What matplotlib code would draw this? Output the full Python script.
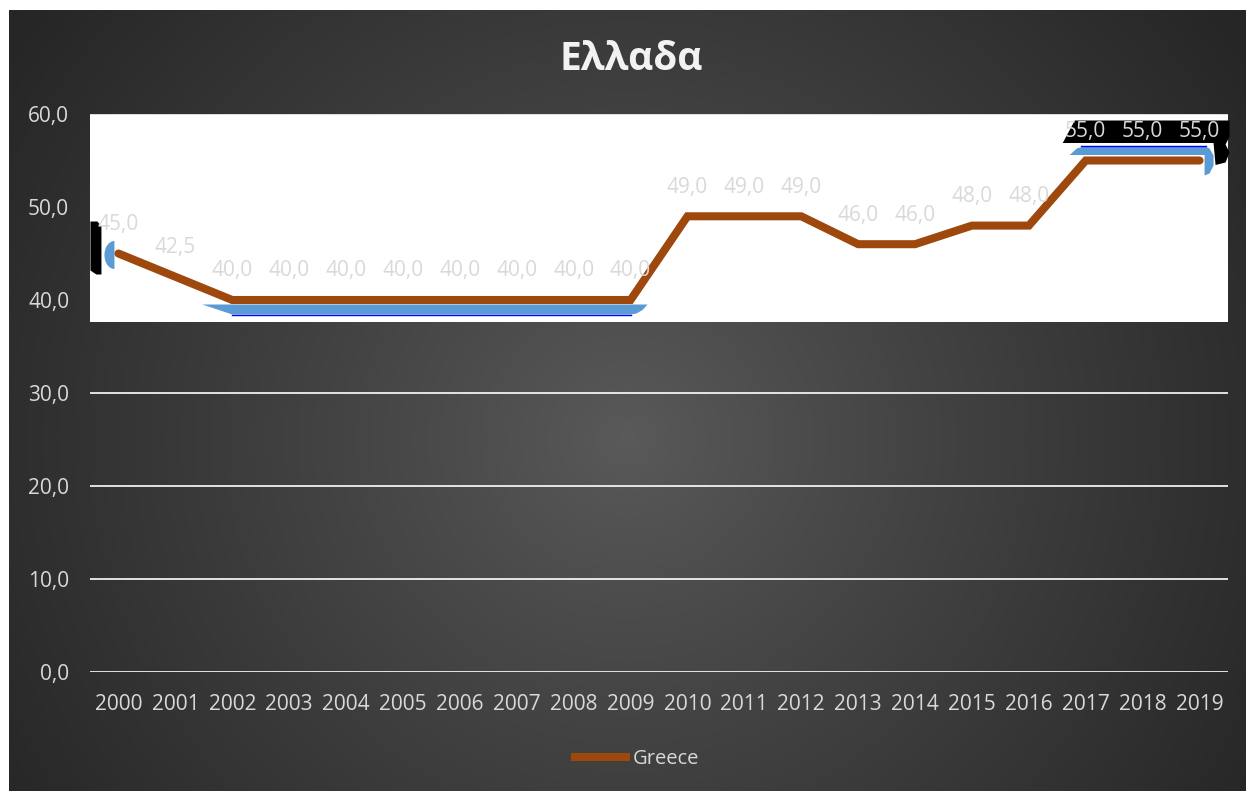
import numpy as np
import matplotlib; matplotlib.use("Agg")
import matplotlib.pyplot as plt
from matplotlib.patches import Polygon
from matplotlib.transforms import IdentityTransform

years = [str(y) for y in range(2000, 2020)]
greece = [45.0, 42.5, 40.0, 40.0, 40.0, 40.0, 40.0, 40.0, 40.0, 40.0,
          49.0, 49.0, 49.0, 46.0, 46.0, 48.0, 48.0, 55.0, 55.0, 55.0]
yticks = [0, 10, 20, 30, 40, 50, 60]

W, H = 1246, 791
LINE = "#9E480E"
TXT = "#D9D9D9"
BLUE = "#5B9BD5"
plt.rcParams["font.family"] = ["Open Sans", "DejaVu Sans"]

fig = plt.figure(figsize=(W / 100, H / 100), dpi=100)
fig.patch.set_facecolor("white")

# radial dark backdrop
bg = fig.add_axes([9 / W, 0, 1 - 9 / W, 1 - 10 / H], zorder=-10)
gy, gx = np.mgrid[0:1:400j, 0:1:600j]
r = np.sqrt((gx - 0.5) ** 2 + ((gy - 0.45) * 0.65) ** 2) / 0.6
r = np.clip(r, 0, 1)
c0, c1 = 0x5a / 255, 0x26 / 255
shade = c0 + (c1 - c0) * r ** 0.9
bg.imshow(np.dstack([shade] * 3), aspect="auto", extent=(0, 1, 0, 1), origin="lower")
bg.axis("off")

ax = fig.add_axes([90 / W, 1 - 672 / H, (1228 - 90) / W, (672 - 114) / H])
ax.patch.set_alpha(0)
x = np.arange(len(years))
ax.set_xlim(-0.5, len(years) - 0.5)
ax.set_ylim(0, 60)
ax.set_yticks(yticks)
ax.set_yticklabels([f"{v:.1f}".replace(".", ",") for v in yticks])
ax.set_xticks(x)
ax.set_xticklabels(years)
ax.tick_params(length=0, labelcolor=TXT, labelsize=15)
ax.tick_params(axis="y", pad=15)
ax.tick_params(axis="x", pad=16)
for s in ax.spines.values():
    s.set_visible(False)
ax.yaxis.grid(True, color="white", lw=1.2, zorder=0)
ax.set_axisbelow(True)

# white panel over the upper band
ax.axhspan(37.6, 59.9, color="white", zorder=1, lw=0)

line, = ax.plot(x, greece, color=LINE, lw=5.8, solid_capstyle="round",
                solid_joinstyle="miter", zorder=5, label="Greece")

# glow fragments, anchored to the data points in pixel space
P = ax.transData.transform(np.column_stack([x, greece]))

def poly(pts, z, color):
    p = Polygon(pts, closed=True, transform=IdentityTransform(), clip_on=False,
                lw=0, color=color, zorder=z)
    ax.add_artist(p)

def edge(xs, ys, z):
    ax.add_artist(plt.Line2D(xs, ys, color="#0000FF", lw=1, clip_on=False,
                             transform=IdentityTransform(), zorder=z))

# left edge: black tab and blue half-disc
x0, y0 = P[0]
poly([(x0 - 28, y0 + 32), (x0 - 21, y0 + 32), (x0 - 17, y0 + 27), (x0 - 17, y0 - 21),
      (x0 - 22, y0 - 21), (x0 - 28, y0 - 17)], 3, "black")
t = np.linspace(np.pi / 2, 3 * np.pi / 2, 30)
poly(np.column_stack([x0 - 4 + 10 * np.cos(t), y0 - 1.5 + 14 * np.sin(t)]), 3, BLUE)

# strip under the flat 40 stretch
xa, ya = P[2]
xb = P[9][0]
poly([(xa - 30, ya - 4.5), (xb + 17, ya - 4.5), (xb + 12, ya - 10), (xb + 6, ya - 13.5),
      (xb, ya - 14.5), (xa, ya - 14.5)], 3, BLUE)
edge([xa, xb], [ya - 14.5, ya - 14.5], 3)

# black tag and blue hook at the 55 plateau
xa, ya = P[17]
xb = P[19][0]
poly([(xa - 23, ya + 17.5), (xa - 11, ya + 40), (xb + 30, ya + 40), (xb + 30, ya + 24),
      (xb + 26, ya + 16), (xb + 30, ya + 8), (xb + 26, ya - 2), (xb + 16, ya - 4.5),
      (xb + 14, ya + 17.5)], 2, "black")
poly([(xa - 16, ya + 5.5), (xa - 9, ya + 12), (xa, ya + 14.5), (xb + 4, ya + 14.5),
      (xb + 10, ya + 12), (xb + 14, ya + 5), (xb + 14, ya - 5), (xb + 10, ya - 13),
      (xb + 5, ya - 15), (xb + 5, ya + 5.5)], 3, BLUE)
edge([xa - 5, xb + 6], [ya + 14.5, ya + 14.5], 3)

for i, v in zip(x, greece):
    ax.annotate(f"{v:.1f}".replace(".", ","), (i, v), xytext=(0, 21),
                textcoords="offset points", ha="center", va="center",
                color=TXT, fontsize=15, zorder=6)

fig.text(631 / W, 1 - 59 / H, "Ελλαδα", ha="center", va="center",
         color="#F2F2F2", fontsize=28, fontweight="bold")

leg = fig.legend(loc="center", bbox_to_anchor=(635 / W, 1 - 759 / H), frameon=False,
                 handlelength=2.9, handletextpad=0.15, fontsize=14.5, labelcolor=TXT)
for h in leg.get_lines():
    h.set_solid_capstyle("butt")

fig.savefig("out.png", dpi=100, facecolor=fig.get_facecolor())
